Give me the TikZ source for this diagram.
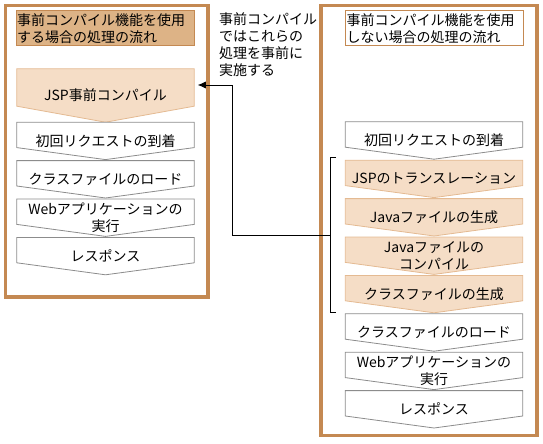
\documentclass[tikz,border=0pt]{standalone}
\usepackage{fontspec}
\setmainfont{Noto Sans CJK JP}
\usetikzlibrary{arrows.meta,positioning,backgrounds}
\definecolor{framebrown}{RGB}{196,137,82}
\definecolor{titletan}{RGB}{221,179,134}
\definecolor{peach}{RGB}{245,221,198}
\definecolor{peachline}{RGB}{228,186,146}
\definecolor{boxgray}{RGB}{140,140,140}

\begin{document}
\begin{tikzpicture}[x=1pt,y=-1pt,
  every node/.style={font=\fontsize{14pt}{17pt}\selectfont,inner sep=0pt},
  frame/.style={draw=framebrown,line width=3.5pt},
  titlebox/.style={draw=framebrown,line width=1pt,minimum width=178pt,minimum height=35pt,text width=176pt,inner xsep=1pt,align=left},
  stepbox/.style={minimum width=177pt,minimum height=37pt,align=center},
  precomp/.style={stepbox,minimum height=53pt}]
\useasboundingbox (0,0) rectangle (543,444);
% outer frames
\node[frame,minimum width=202.5pt,minimum height=291.5pt] (lframe) at (106.75,151.25) {};
\node[frame,minimum width=216pt,minimum height=430pt] (rframe) at (429,220.5) {};
% titles
\node[titlebox,fill=titletan] (ltitle) at (105,28.5) {事前コンパイル機能を使用\\する場合の処理の流れ};
\node[titlebox,fill=white] (rtitle) at (434.5,28.5) {事前コンパイル機能を使用\\しない場合の処理の流れ};
\node[anchor=north west,align=left] (note) at (219,12) {事前コンパイル\\ではこれらの\\処理を事前に\\実施する};
% left column
\node[precomp] (lpre) at (105.5,95.5) {JSP事前コンパイル};
\node[stepbox,below=0pt of lpre] (lreq) {初回リクエストの到着};
\node[stepbox,below=1pt of lreq] (lload) {クラスファイルのロード};
\node[stepbox,below=1pt of lload] (lexec) {Webアプリケーションの\\実行};
\node[stepbox,below=1pt of lexec] (lres) {レスポンス};
% right column
\node[stepbox] (rreq) at (434,140.5) {初回リクエストの到着};
\node[stepbox,below=1pt of rreq] (rtrans) {JSPのトランスレーション};
\node[stepbox,below=1pt of rtrans] (rjava) {Javaファイルの生成};
\node[stepbox,below=1pt of rjava] (rcomp) {Javaファイルの\\コンパイル};
\node[stepbox,below=1pt of rcomp] (rclass) {クラスファイルの生成};
\node[stepbox,below=1pt of rclass] (rload) {クラスファイルのロード};
\node[stepbox,below=1pt of rload] (rexec) {Webアプリケーションの\\実行};
\node[stepbox,below=1pt of rexec] (rres) {レスポンス};
% chevron outlines
\begin{scope}[on background layer]
\foreach \n/\t in {lpre/16,rtrans/12,rjava/12,rcomp/12,rclass/12}
  \draw[draw=peachline,fill=peach,line width=.8pt] (\n.north west) -- (\n.north east) -- ([yshift=\t pt]\n.south east) -- (\n.south) -- ([yshift=\t pt]\n.south west) -- cycle;
\foreach \n in {lreq,lload,lexec,lres,rreq,rload,rexec,rres}
  \draw[draw=boxgray,fill=white,line width=.8pt] (\n.north west) -- (\n.north east) -- ([yshift=12pt]\n.south east) -- (\n.south) -- ([yshift=12pt]\n.south west) -- cycle;
\end{scope}
% bracket and connector
\coordinate (btop) at (330,157);
\coordinate (bbot) at (330,312);
\coordinate (bmid) at (330,235);
\coordinate (bend) at (232,85);
\coordinate (atip) at ([xshift=-12pt]lframe.east |- bend);
\draw[line width=.8pt] ([xshift=6pt]btop) -- (btop) -- (bbot) -- ([xshift=6pt]bbot);
\draw[line width=.8pt,-{Latex[length=8pt,width=7pt]}] (bmid) -| (bend) -- (atip);
\end{tikzpicture}
\end{document}
